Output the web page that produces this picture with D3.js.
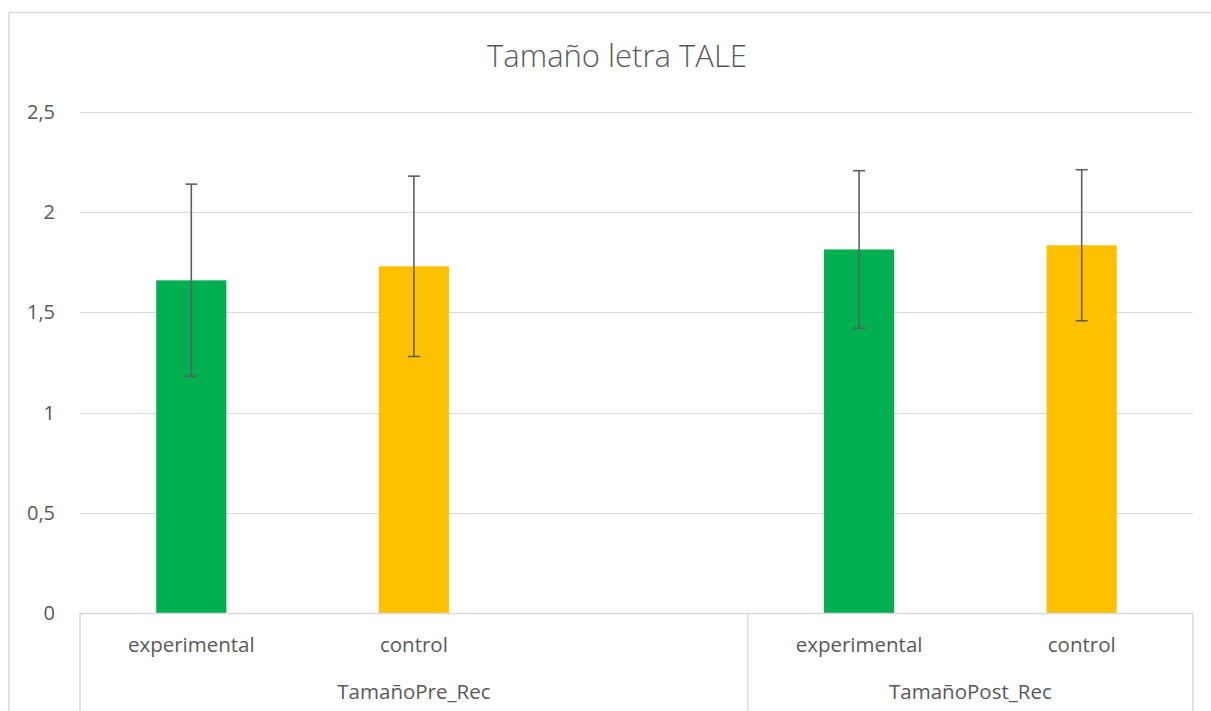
<!DOCTYPE html>
<html>
<head>
<meta charset="utf-8">
<script src="https://cdn.jsdelivr.net/npm/d3@7"></script>
<style>
  html, body { margin: 0; padding: 0; background: #fff; }
  svg { display: block; }
  text { font-family: "Open Sans", "Noto Sans", sans-serif; fill: #595959; }
</style>
</head>
<body>
<svg id="chart" width="1211" height="711"></svg>
<script>
// ---- data ----
const title = "Tamaño letra TALE";
const groups = ["TamañoPre_Rec", "TamañoPost_Rec"];
// slots along the category axis (first group has an empty third slot)
const slotLabels = ["experimental", "control", "", "experimental", "control"];
const slotGroup = [0, 0, 0, 1, 1];
const barSlots = [0, 1, 3, 4];
const barSeries = ["experimental", "control", "experimental", "control"];
const means = [1.66, 1.73, 1.814, 1.835];
const errors = [0.48, 0.45, 0.393, 0.377];
const yTicks = [0, 0.5, 1, 1.5, 2, 2.5];
const yTickLabels = ["0", "0,5", "1", "1,5", "2", "2,5"];
const seriesColors = { experimental: "#00B050", control: "#FFC000" };

// ---- layout ----
const svg = d3.select("#chart");
const plot = { left: 80, right: 1193, top: 112, bottom: 613 };

const x = d3.scaleBand()
  .domain(d3.range(slotLabels.length))
  .range([plot.left, plot.right])
  .paddingInner(0).paddingOuter(0);
const y = d3.scaleLinear().domain([0, 2.5]).range([plot.bottom, plot.top]);

// chart border
svg.append("rect")
  .attr("x", 9).attr("y", 12.5)
  .attr("width", 1230).attr("height", 720)
  .attr("fill", "none").attr("stroke", "#d9d9d9").attr("stroke-width", 1.5);

// title
svg.append("text")
  .attr("x", 617)
  .attr("y", 67)
  .attr("text-anchor", "middle")
  .style("font-size", "31px")
  .style("font-weight", "300")
  .text(title);

// gridlines
svg.append("g").selectAll("line")
  .data(yTicks.filter(d => d > 0))
  .join("line")
  .attr("x1", plot.left).attr("x2", plot.right)
  .attr("y1", d => Math.round(y(d)) + 0.5).attr("y2", d => Math.round(y(d)) + 0.5)
  .attr("stroke", "#d9d9d9").attr("stroke-width", 1.2);

// y tick labels
svg.append("g").selectAll("text")
  .data(yTicks)
  .join("text")
  .attr("x", 55)
  .attr("y", d => y(d) + 7)
  .attr("text-anchor", "end")
  .style("font-size", "20px")
  .text((d, i) => yTickLabels[i]);

// bars
const bw = x.bandwidth() * 0.315;
const bars = svg.append("g");
bars.selectAll("rect")
  .data(means)
  .join("rect")
  .attr("x", (d, i) => x(barSlots[i]) + x.bandwidth() / 2 - bw / 2)
  .attr("y", d => y(d))
  .attr("width", bw)
  .attr("height", d => y(0) - y(d))
  .attr("fill", (d, i) => seriesColors[barSeries[i]]);

// error bars
const eg = svg.append("g").attr("stroke", "#5f5f5f").attr("stroke-width", 1.6);
means.forEach((m, i) => {
  const cx = x(barSlots[i]) + x.bandwidth() / 2;
  const top = y(m + errors[i]), bot = y(m - errors[i]);
  eg.append("line").attr("x1", cx).attr("x2", cx).attr("y1", top).attr("y2", bot);
  eg.append("line").attr("x1", cx - 6).attr("x2", cx + 6).attr("y1", top).attr("y2", top);
  eg.append("line").attr("x1", cx - 6).attr("x2", cx + 6).attr("y1", bot).attr("y2", bot);
});

// category axis
const ax = svg.append("g").attr("stroke", "#d9d9d9").attr("stroke-width", 1.5);
ax.append("line")
  .attr("x1", plot.left).attr("x2", plot.right)
  .attr("y1", y(0) + 0.5).attr("y2", y(0) + 0.5);
// group separators
const groupBounds = groups.map((g, gi) => {
  const idx = slotGroup.map((s, i) => s === gi ? i : -1).filter(i => i >= 0);
  return [x(idx[0]), x(idx[idx.length - 1]) + x.bandwidth()];
});
const sepXs = [groupBounds[0][0], groupBounds[0][1], groupBounds[1][1]];
ax.selectAll("line.sep")
  .data(sepXs)
  .join("line")
  .attr("class", "sep")
  .attr("x1", d => d).attr("x2", d => d)
  .attr("y1", y(0)).attr("y2", 711);

// category labels
svg.append("g").selectAll("text")
  .data(slotLabels)
  .join("text")
  .attr("x", (d, i) => x(i) + x.bandwidth() / 2)
  .attr("y", 652)
  .attr("text-anchor", "middle")
  .style("font-size", "20.5px")
  .text(d => d);

// group labels
svg.append("g").selectAll("text")
  .data(groups)
  .join("text")
  .attr("x", (d, i) => (groupBounds[i][0] + groupBounds[i][1]) / 2)
  .attr("y", 699)
  .attr("text-anchor", "middle")
  .style("font-size", "20.5px")
  .text(d => d);
</script>
</body>
</html>
